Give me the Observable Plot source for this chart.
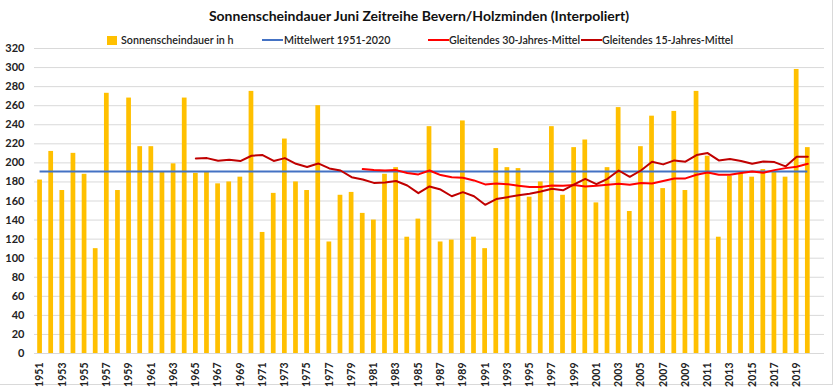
<!DOCTYPE html>
<html><head><meta charset="utf-8">
<script src="https://cdn.jsdelivr.net/npm/d3@7"></script>
<script src="https://cdn.jsdelivr.net/npm/@observablehq/plot@0.6"></script>
<style>
body{margin:0;background:#fff;font-family:Lato,"Open Sans",sans-serif;}
#wrap{position:relative;width:840px;height:388px;overflow:hidden;background:#fff;}
#frame{position:absolute;left:-1px;top:-1px;width:834px;height:386px;border:1px solid #d9d9d9;box-sizing:border-box;}
#title{position:absolute;top:7px;left:0;width:838px;text-align:center;font-weight:bold;font-size:14px;color:#111;}
.leg{position:absolute;top:33px;font-size:10.7px;color:#222;font-weight:600;white-space:nowrap;line-height:14px;}
.sw{position:absolute;}
#chart{position:absolute;top:34px;left:0;}
</style></head>
<body>
<div id="wrap">
  <div id="frame"></div>
  <div id="title">Sonnenscheindauer Juni Zeitreihe Bevern/Holzminden (Interpoliert)</div>
  <div class="sw" style="left:107px;top:36px;width:10px;height:9px;background:#FFC000"></div>
  <div class="leg" style="left:121px">Sonnenscheindauer in h</div>
  <div class="sw" style="left:262px;top:39px;width:21px;height:2px;background:#4472C4"></div>
  <div class="leg" style="left:284px">Mittelwert 1951-2020</div>
  <div class="sw" style="left:428px;top:39px;width:21px;height:2px;background:#FF0000"></div>
  <div class="leg" style="left:449px">Gleitendes 30-Jahres-Mittel</div>
  <div class="sw" style="left:581px;top:39px;width:21px;height:2px;background:#C00000"></div>
  <div class="leg" style="left:602px">Gleitendes 15-Jahres-Mittel</div>
  <div id="chart"></div>
</div>
<script>
const firstYear = 1951;
const sunshine = [
  182,212,171,210,188,110,273,171,268,217,
  217,190,199,268,189,190,178,180,185,275,
  127,168,225,180,171,260,117,166,169,147,
  140,188,195,122,141,238,117,119,244,122,
  110,215,195,194,164,180,238,166,216,224,
  158,195,258,149,217,249,173,254,171,275,
  207,122,186,189,185,193,191,185,298,216
];
const meanValue = 191;
const meanFrom = 1951, meanTo = 2020;
const ma15Start = 1965;
const ma15 = [
  204.7,205.0,202.2,203.3,201.9,207.5,208.2,202.0,205.0,199.0,
  195.6,199.4,194.2,192.0,185.0,182.6,179.0,179.5,181.0,176.3,
  168.2,175.3,172.0,165.0,169.3,165.0,156.0,162.0,164.0,166.0,
  167.5,170.0,172.8,171.2,177.4,183.3,177.7,183.3,192.0,185.4,
  192.0,201.2,198.4,202.6,201.2,208.2,210.3,202.6,204.0,201.9,
  199.0,201.5,200.8,196.3,206.5,206.5
];
const ma30Start = 1980;
const ma30 = [
  193.5,192.4,192.0,192.4,189.3,187.9,192.0,187.2,185.0,184.4,
  181.6,177.4,178.4,177.7,176.0,174.6,174.6,176.3,176.0,176.7,
  175.3,176.0,177.0,178.0,177.0,178.8,178.4,181.0,183.7,183.7,
  187.6,190.0,187.6,187.6,189.3,191.0,189.6,192.4,194.5,196.0,
  199.0
];
const yTicks = [0,20,40,60,80,100,120,140,160,180,200,220,240,260,280,300,320];
const xTicks = [];
for (let y = 1951; y <= 2019; y += 2) xTicks.push(y);

const bars = sunshine.map((v, i) => ({year: firstYear + i, value: v}));
const l15 = ma15.map((v, i) => ({year: ma15Start + i, value: v}));
const l30 = ma30.map((v, i) => ({year: ma30Start + i, value: v}));

const chart = Plot.plot({
  width: 840,
  height: 354,
  marginLeft: 34,
  marginRight: 16,
  marginTop: 14,
  marginBottom: 35,
  style: {fontFamily: "Lato, 'Open Sans', sans-serif", background: "transparent", overflow: "visible"},
  x: {type: "linear", domain: [1950.5, 2021.5]},
  y: {domain: [0, 320]},
  marks: [
    Plot.gridY(yTicks, {stroke: "#d9d9d9", strokeOpacity: 1, strokeWidth: 1}),
    Plot.axisY(yTicks, {tickSize: 0, tickPadding: 10, fontSize: 11, fontWeight: "bold", fill: "#222", label: null}),
    Plot.axisX(xTicks, {tickSize: 0, tickPadding: 9, tickRotate: -90, tickFormat: d => String(d), fontSize: 10.5, fontWeight: "bold", fill: "#222", label: null}),
    Plot.rectY(bars, {x1: d => d.year - 0.5, x2: d => d.year + 0.5, y: "value", fill: "#FFC000", insetLeft: 3.2, insetRight: 3.2}),
    Plot.ruleY([meanValue], {x1: meanFrom, x2: meanTo, stroke: "#4472C4", strokeWidth: 2}),
    Plot.lineY(l30, {x: "year", y: "value", stroke: "#FF0000", strokeWidth: 2}),
    Plot.lineY(l15, {x: "year", y: "value", stroke: "#C00000", strokeWidth: 2})
  ]
});
document.getElementById("chart").appendChild(chart);
</script>
</body></html>
